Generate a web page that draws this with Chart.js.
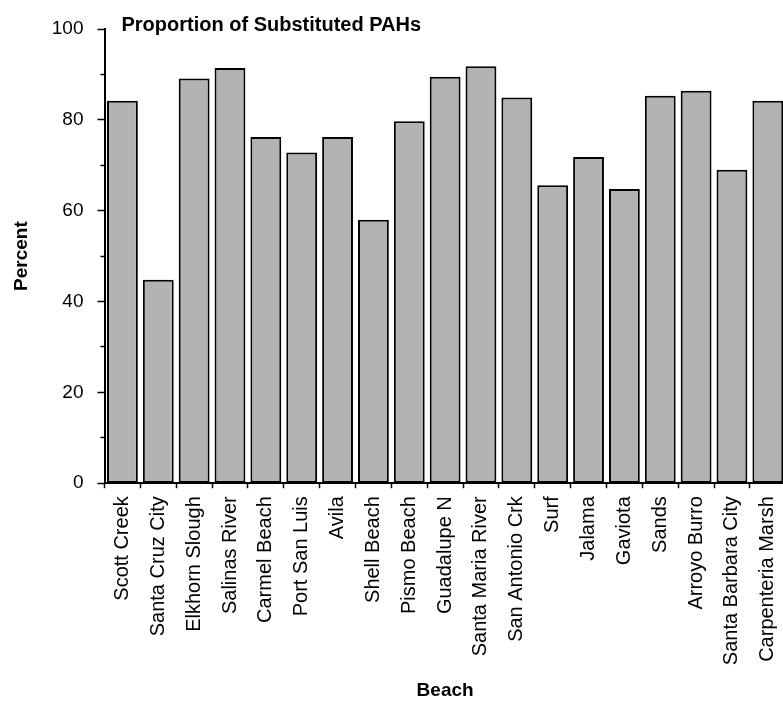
<!DOCTYPE html>
<html>
<head>
<meta charset="utf-8">
<title>Proportion of Substituted PAHs</title>
<script src="https://cdn.jsdelivr.net/npm/chart.js@4/dist/chart.umd.min.js"></script>
<style>
  html, body { margin: 0; padding: 0; background: #fff; overflow: hidden; }
  #wrap { width: 800px; height: 702px; position: relative; }
</style>
</head>
<body>
<div id="wrap"><canvas id="barChart"></canvas></div>
<script>
// ======= Данные =======
const beaches = ['Scott Creek', 'Santa Cruz City', 'Elkhorn Slough', 'Salinas River', 'Carmel Beach',
    'Port San Luis', 'Avila', 'Shell Beach', 'Pismo Beach', 'Guadalupe N', 'Santa Maria River',
    'San Antonio Crk', 'Surf', 'Jalama', 'Gaviota', 'Sands', 'Arroyo Burro', 'Santa Barbara City',
    'Carpenteria Marsh'];
const percentSubstituted = [84.2, 44.8, 89.1, 91.4, 76.2, 72.8, 76.2, 58.0, 79.7, 89.5, 91.8,
    84.9, 65.6, 71.8, 64.8, 85.3, 86.4, 69.0, 84.2];
const yTicks = [0, 20, 40, 60, 80, 100];   // подписанные деления, промежуточные без подписи

const FONT = 'Arial, "Liberation Sans", Helvetica, sans-serif';

// Серая штриховка столбцов
function barPattern() {
    const c = document.createElement('canvas');
    c.width = 2; c.height = 2;
    const g = c.getContext('2d');
    g.fillStyle = '#b9b9b9'; g.fillRect(0, 0, 2, 2);
    g.fillStyle = '#acacac'; g.fillRect(0, 0, 1, 1); g.fillRect(1, 1, 1, 1);
    return g.createPattern(c, 'repeat');
}

// Заголовок внутри верхней части графика, как в оригинале
const titlePlugin = {
    id: 'innerTitle',
    afterDraw(chart) {
        const { ctx, chartArea } = chart;
        ctx.save();
        ctx.font = 'bold 20px ' + FONT;
        ctx.fillStyle = '#000';
        ctx.textAlign = 'left';
        ctx.textBaseline = 'alphabetic';
        ctx.fillText('Proportion of Substituted PAHs', chartArea.left + 17, chartArea.top + 2);
        ctx.restore();
    }
};

new Chart(document.getElementById('barChart').getContext('2d'), {
    type: 'bar',
    data: {
        labels: beaches,
        datasets: [{
            data: percentSubstituted,
            backgroundColor: barPattern(),
            borderColor: '#000',
            borderWidth: 2,
            borderSkipped: false,
            barPercentage: 0.86,
            categoryPercentage: 1.0
        }]
    },
    options: {
        responsive: true,
        maintainAspectRatio: false,
        animation: false,
        layout: { padding: { top: 29, right: 7, left: 0, bottom: 0 } },
        plugins: {
            legend: { display: false },
            tooltip: { enabled: false }
        },
        scales: {
            x: {
                offset: true,
                grid: {
                    offset: true,
                    drawOnChartArea: false,
                    tickLength: 5,
                    tickColor: '#000',
                    tickWidth: 1.5
                },
                border: { color: '#000', width: 2 },
                ticks: {
                    color: '#000',
                    font: { family: FONT, size: 20 },
                    minRotation: 90,
                    maxRotation: 90,
                    autoSkip: false,
                    padding: 8
                },
                title: {
                    display: true,
                    text: 'Beach',
                    color: '#000',
                    font: { family: FONT, size: 19, weight: 'bold' },
                    padding: { top: 6, bottom: 0 }
                }
            },
            y: {
                min: 0,
                max: 100,
                grid: {
                    drawOnChartArea: false,
                    tickLength: 7,
                    tickColor: '#000',
                    tickWidth: 1.5,
                    // короткие промежуточные деления
                    tickBorderDash: (c) => (c.tick && !yTicks.includes(c.tick.value)) ? [0, 3, 4, 100] : []
                },
                border: { color: '#000', width: 2 },
                ticks: {
                    stepSize: 10,
                    color: '#000',
                    font: { family: FONT, size: 19 },
                    padding: 14,
                    callback: (v) => yTicks.includes(v) ? v : ''
                },
                title: {
                    display: true,
                    text: 'Percent',
                    color: '#000',
                    font: { family: FONT, size: 19, weight: 'bold' },
                    padding: { top: 10, bottom: 5 }
                }
            }
        }
    },
    plugins: [titlePlugin]
});
</script>
</body>
</html>
